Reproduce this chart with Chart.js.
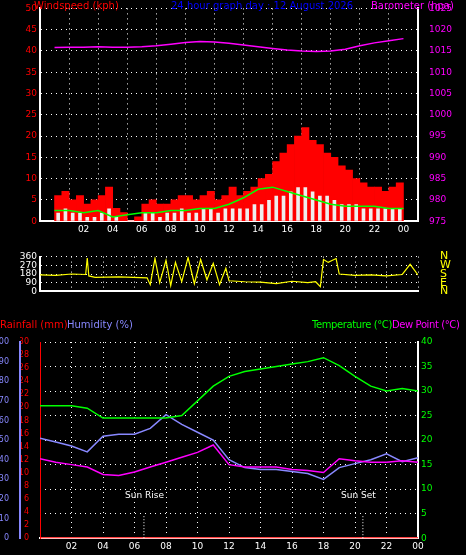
<!DOCTYPE html>
<html><head>
<script src="https://cdn.jsdelivr.net/npm/chart.js@4"></script>
<style>
body{margin:0;background:#000;width:466px;height:555px;overflow:hidden;font-family:"DejaVu Sans",sans-serif}
.c{position:absolute;left:0;width:466px}
.t{position:absolute;font-size:10px;white-space:nowrap}
</style></head><body>
<div class="c" style="top:0;height:238px"><canvas id="wind"></canvas></div>
<div class="c" style="top:236px;height:76px"><canvas id="dir"></canvas></div>
<div class="c" style="top:330px;height:225px"><canvas id="th"></canvas></div>
<div class="t" style="left:34px;top:0;color:#f00">Windspeed (kph)</div>
<div class="t" style="left:171px;top:0;color:#00f">24 hour graph day : 12 August 2026</div>
<div class="t" style="left:371px;top:0;color:#f0f">Barometer (hpa)</div>
<div class="t" style="left:0;top:319px;color:#f00">Rainfall (mm)</div>
<div class="t" style="left:67px;top:319px;color:#88f">Humidity (%)</div>
<div class="t" style="left:312px;top:319px;color:#0f0;letter-spacing:-0.4px">Temperature (°C)</div>
<div class="t" style="left:392px;top:319px;color:#f0f;letter-spacing:-0.4px">Dew Point (°C)</div>
<div class="t" style="left:125px;top:490px;color:#fff;font-size:9px">Sun Rise</div>
<div class="t" style="left:341px;top:490px;color:#fff;font-size:9px">Sun Set</div>
<script>
// hours 0..24 for lines
const hours = [0,1,2,3,4,5,6,7,8,9,10,11,12,13,14,15,16,17,18,19,20,21,22,23,24];
const baro = [1015.8,1015.9,1015.9,1016.0,1015.9,1015.9,1016.0,1016.2,1016.6,1017.0,1017.2,1017.1,1016.8,1016.4,1016.0,1015.6,1015.2,1015.0,1014.9,1015.0,1015.4,1016.2,1016.9,1017.4,1017.9];
const windAvg = [2.5,2.5,2.0,2.5,1.0,1.5,2.0,2.0,2.5,2.5,3.0,3.0,4.0,5.5,7.5,8.0,7.0,6.0,5.0,4.0,3.5,3.5,3.5,3.0,3.0];
// half-hour bars
const halfHours = Array.from({length:48},(_, i) => i*0.5 + 0.25);
const gust = [6,7,5,6,4,5,6,8,3,2,0,1,4,5,4,4,5,6,6,5,6,7,5,6,8,6,7,8,10,11,14,16,18,20,22,19,18,16,15,13,12,10,9,8,8,7,8,9];
const speed = [2,3,2,2,1,1,2,3,1,0,0,0,2,2,1,2,2,3,2,2,3,3,2,3,3,3,3,4,4,5,6,6,7,8,8,7,6,6,5,4,4,4,3,3,3,3,3,3];
const dirHours = [0,1,2,2.9,3.0,3.1,3.5,5,6.8,7.0,7.3,7.6,8.0,8.3,8.6,9,9.4,9.8,10.2,10.6,11,11.4,11.8,12,13,14,15,16,17,17.5,17.8,18,18.3,18.8,19,20,21,22,23,23.5,24];
const dirVals = [170,165,180,175,345,160,145,150,140,70,340,90,320,60,300,100,350,80,330,120,290,70,240,110,100,95,80,105,90,100,50,330,300,340,180,165,170,160,175,280,170];
const tempVals = [27,27,27,26.5,24.5,24.5,24.5,24.5,24.5,25,28,31,33,34,34.5,35,35.5,36,36.8,35.2,33,31,30,30.5,30];
const dewVals = [16.2,15.5,15,14.5,13,12.8,13.5,14.5,15.5,16.5,17.5,19,15,14.5,14.5,14.5,14,13.8,13.4,16.2,15.8,15.5,15.5,15.8,15.5];
const humVals = [51,49,47,44,52,53,53,56,63,58,54,50,40,36,35,35,34,33,30,36,38,40,43,39,41];
const rainVals = hours.map(() => 0);
const sunRise = 6.6, sunSet = 20.5;

Chart.defaults.font.family = 'DejaVu Sans';
Chart.defaults.font.size = 9;
Chart.defaults.animation = false;
const grid = {color:'#fff', drawTicks:false};
const gborder = {color:'#fff', width:2, dash:[1,4]};
const fixW = w => function(s){ s.width = w; };
const xAxis = (show) => ({type:'linear', min:0, max:24,
  ticks:{stepSize:2, display:show, color:'#fff', callback:v => v===0 ? '' : String(v%24).padStart(2,'0')},
  grid:grid, border:gborder});
const pts = (xs, ys) => xs.map((x,i) => ({x:x, y:ys[i]}));
const opts = (scales, pad) => ({responsive:true, maintainAspectRatio:false, layout:{padding:pad},
  plugins:{legend:{display:false}, tooltip:{enabled:false}}, scales:scales});

new Chart(document.getElementById('wind'), {
  data:{datasets:[
    {type:'line', data:pts(hours, baro), yAxisID:'yb', borderColor:'#f0f', borderWidth:1.5, pointRadius:0},
    {type:'line', data:pts(hours, windAvg), yAxisID:'y', borderColor:'#0f0', borderWidth:1.5, pointRadius:0},
    {type:'bar', data:pts(halfHours, speed), yAxisID:'y', backgroundColor:'#eee', barPercentage:1, categoryPercentage:0.5, grouped:false, order:2},
    {type:'bar', data:pts(halfHours, gust), yAxisID:'y', backgroundColor:'#f00', barPercentage:1, categoryPercentage:1, grouped:false, order:3}
  ]},
  options:opts({
    x:xAxis(true),
    y:{position:'left', min:0, max:50, ticks:{stepSize:5, color:'#f00', autoSkip:false}, grid:grid, border:gborder, afterFit:fixW(40)},
    yb:{position:'right', min:975, max:1025, ticks:{stepSize:5, color:'#f0f', autoSkip:false, callback:v => String(v)}, grid:{display:false}, border:{color:'#fff', width:2}, afterFit:fixW(48)}
  }, {top:6, bottom:0})
});

new Chart(document.getElementById('dir'), {
  type:'line',
  data:{datasets:[{data:pts(dirHours, dirVals), yAxisID:'y', borderColor:'#ff0', borderWidth:1.2, pointRadius:0}]},
  options:opts({
    x:xAxis(false),
    y:{position:'left', min:0, max:360, ticks:{stepSize:90, color:'#fff', autoSkip:false}, grid:grid, border:gborder, afterFit:fixW(40)},
    y2:{position:'right', min:0, max:360, ticks:{stepSize:90, color:'#ff0', autoSkip:false, padding:14, font:{size:11}, callback:v => ({0:'N',90:'E',180:'S',270:'W',360:'N'})[v]}, grid:{display:false}, border:{display:false}, afterFit:fixW(48)}
  }, {top:6, bottom:6})
});

const sunLines = {id:'sun', afterDatasetsDraw(c){
  const x = c.scales.x, ctx = c.ctx;
  ctx.save(); ctx.strokeStyle='#fff'; ctx.setLineDash([1,2]); ctx.lineWidth=1;
  [sunRise, sunSet].forEach(h => { const px = x.getPixelForValue(h);
    ctx.beginPath(); ctx.moveTo(px, c.chartArea.bottom); ctx.lineTo(px, c.chartArea.bottom-22); ctx.stroke(); });
  ctx.restore();
}};
new Chart(document.getElementById('th'), {
  type:'line',
  data:{datasets:[
    {data:pts(hours, tempVals), yAxisID:'yt', borderColor:'#0f0', borderWidth:1.5, pointRadius:0},
    {data:pts(hours, dewVals), yAxisID:'yt', borderColor:'#f0f', borderWidth:1.5, pointRadius:0},
    {data:pts(hours, humVals), yAxisID:'yh', borderColor:'#88f', borderWidth:1.5, pointRadius:0},
    {data:pts(hours, rainVals), yAxisID:'yr', borderColor:'#f00', borderWidth:2, pointRadius:0}
  ]},
  options:opts({
    x:xAxis(true),
    yr:{position:'left', weight:1, min:0, max:30, ticks:{stepSize:2, color:'#f00', autoSkip:false, font:{size:8}}, grid:{display:false}, border:{color:'#f00', width:1}, afterFit:fixW(20)},
    yh:{position:'left', weight:2, min:0, max:100, ticks:{stepSize:10, color:'#88f', autoSkip:false, font:{size:8}}, grid:{display:false}, border:{color:'#88f', width:2}, afterFit:fixW(20)},
    yt:{position:'right', min:0, max:40, ticks:{stepSize:5, color:'#0f0', autoSkip:false}, grid:grid, border:gborder, afterFit:fixW(48)}
  }, {top:12, bottom:0}),
  plugins:[sunLines]
});
</script>
</body></html>
